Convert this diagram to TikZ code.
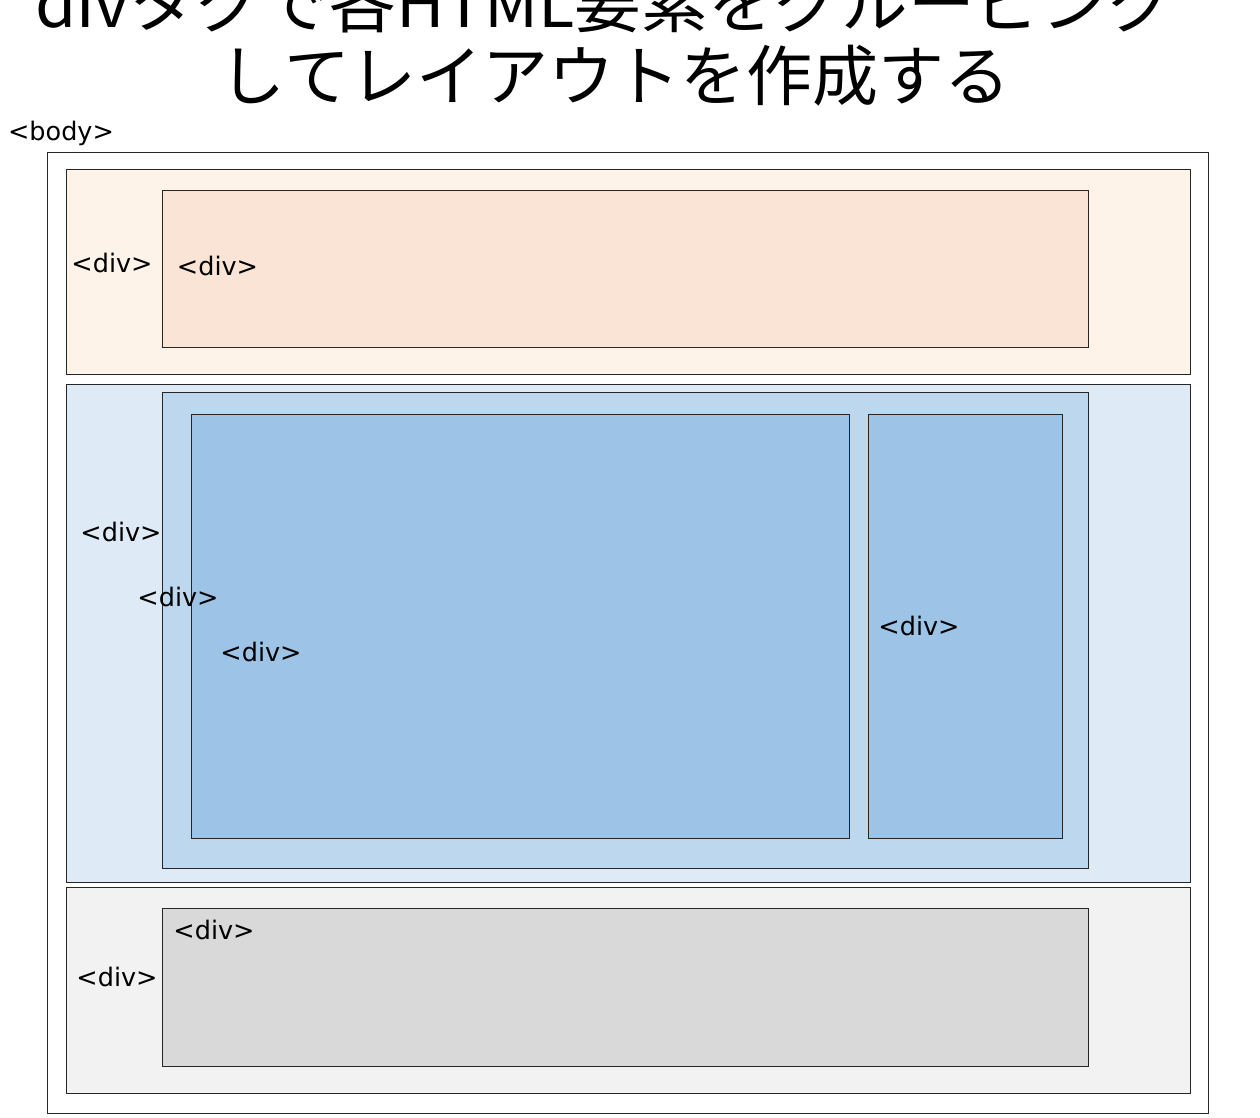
\documentclass[tikz,border=0pt]{standalone}
\usepackage{fontspec}
\setmainfont{Noto Sans CJK JP}
\newfontfamily\lblfont{DejaVu Sans}
\definecolor{topout}{HTML}{FDF3E9}
\definecolor{topin}{HTML}{FAE4D6}
\definecolor{midout}{HTML}{DEEAF6}
\definecolor{midin}{HTML}{BDD7EE}
\definecolor{deep}{HTML}{9DC3E6}
\definecolor{botout}{HTML}{F2F2F2}
\definecolor{botin}{HTML}{D9D9D9}
\definecolor{edge}{HTML}{262626}
\tikzset{
  box/.style={draw=edge, line width=0.9pt, rectangle, inner sep=0pt, anchor=north west},
  lbl/.style={font=\lblfont\fontsize{25.5}{30}\selectfont, inner sep=0pt}
}
\newcommand{\mybox}[6]{\node[box, fill=#2, minimum width=#5pt-#3pt, minimum height=#6pt-#4pt] (#1) at (#3,#4) {};}
\begin{document}
\begin{tikzpicture}[x=1pt,y=-1pt]
\useasboundingbox (0,0) rectangle (1260,1118);
\clip (0,0) rectangle (1260,1118);
\fill[white] (0,0) rectangle (1260,1118);
% title
\node[font=\fontsize{66}{78}\selectfont, inner sep=0pt, xscale=1.01] (t1) at (605,2) {divタグで各HTML要素をグルーピング};
\node[font=\fontsize{66}{78}\selectfont, inner sep=0pt] (t2) at (615,76) {してレイアウトを作成する};
% boxes
\mybox{body}{white}{47}{152}{1208}{1113}
\mybox{top}{topout}{66}{169}{1190}{374}
\mybox{topi}{topin}{162}{190}{1088}{347}
\mybox{mid}{midout}{66}{384}{1190}{882}
\mybox{midi}{midin}{162}{392}{1088}{868}
\mybox{left}{deep}{191}{414}{849}{838}
\mybox{right}{deep}{868}{414}{1062}{838}
\mybox{bot}{botout}{66}{887}{1190}{1093}
\mybox{boti}{botin}{162}{908}{1088}{1066}
% labels
\node[lbl] (lbody) at (61,133) {<body>};
\node[lbl] (ltop) at (112,263) {<div>};
\node[lbl] (ltopi) at (217.5,266) {<div>};
\node[lbl] (lmid) at (121,532) {<div>};
\node[lbl] (lmidi) at (178,597) {<div>};
\node[lbl] (lleft) at (261,652) {<div>};
\node[lbl] (lright) at (919,626) {<div>};
\node[lbl] (lboti) at (214,930) {<div>};
\node[lbl] (lbot) at (117,977) {<div>};
\end{tikzpicture}
\end{document}
